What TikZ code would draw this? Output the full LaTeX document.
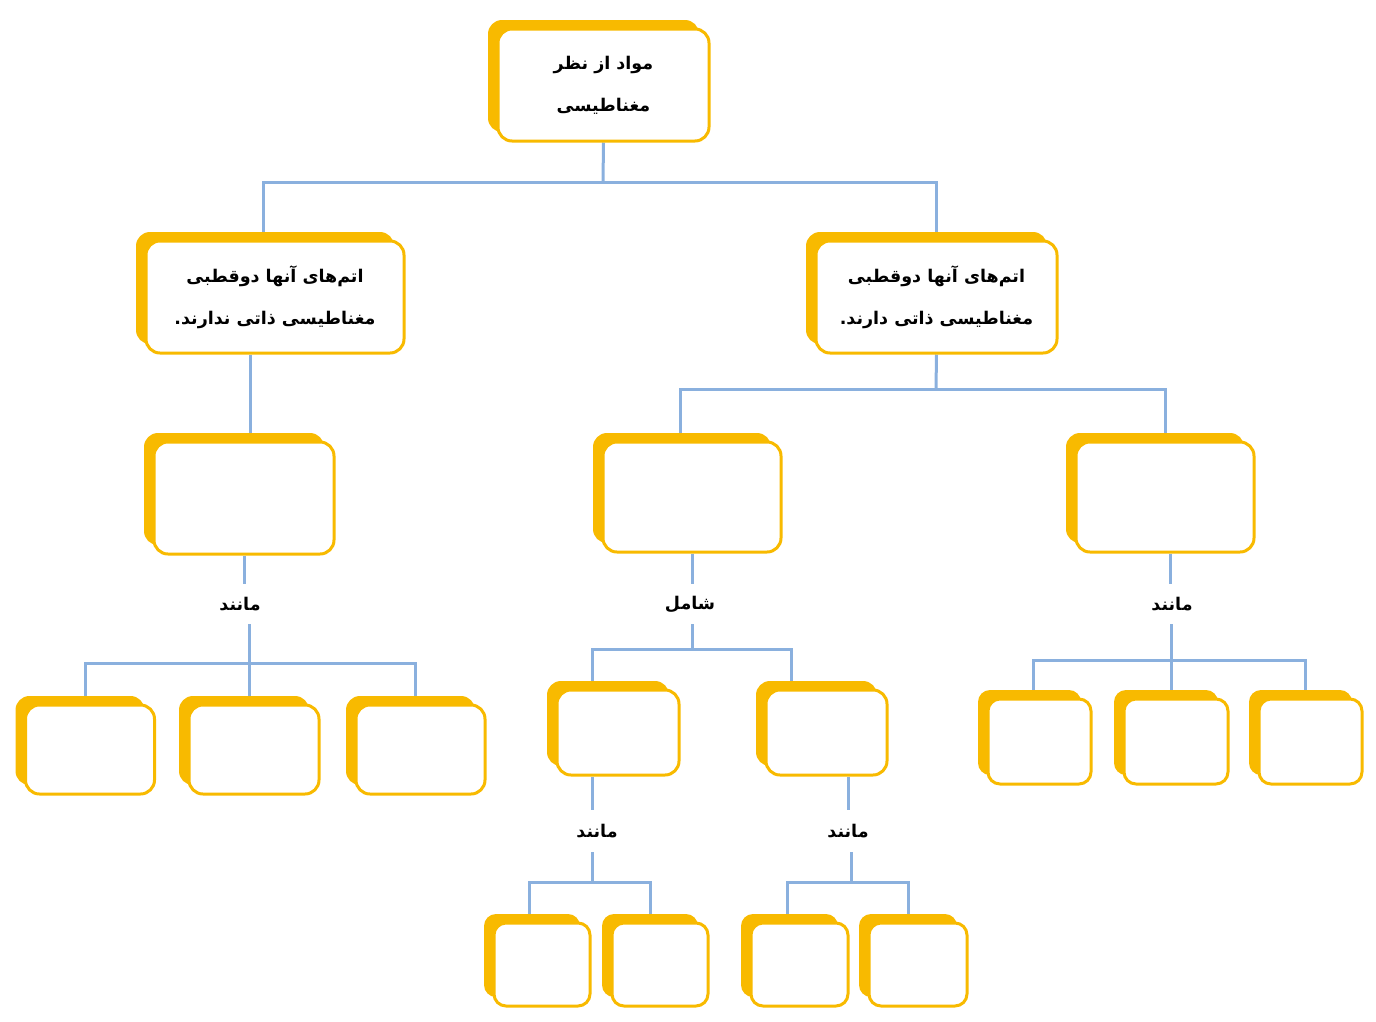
\documentclass[tikz,border=0pt]{standalone}
\usepackage{fontspec}
\newfontfamily\arabicfont[Script=Arabic]{DejaVu Sans}
\TeXXeTstate=1
\usetikzlibrary{shadows,backgrounds}
\definecolor{boxyellow}{RGB}{248,186,0}
\definecolor{linkblue}{RGB}{138,176,222}
\tikzset{
  cbox/.style={draw=boxyellow, line width=3pt, fill=white, rounded corners=14pt,
    general shadow={fill=boxyellow, shadow xshift=-10pt, shadow yshift=9pt}, inner sep=0pt},
  link/.style={draw=linkblue, line width=3pt},
  ftext/.style={font=\arabicfont\bfseries\fontsize{17.5}{42}\selectfont, align=center},
  lbl/.style={font=\arabicfont\bfseries\fontsize{17.5}{20}\selectfont, inner sep=0pt, minimum height=40pt}
}
\begin{document}
\begin{tikzpicture}[x=1pt,y=-1pt]
\useasboundingbox (0,0) rectangle (1376,1021);
% main boxes
\node[cbox, ftext, minimum width=211pt, minimum height=112pt] (top) at (603.5,85)
  {\beginR مواد از نظر\endR\\\beginR مغناطیسی\endR};
\node[cbox, ftext, minimum width=258pt, minimum height=112pt] (L1) at (275,297)
  {\beginR اتم‌های آنها دوقطبی\endR\\\beginR مغناطیسی ذاتی ندارند.\endR};
\node[cbox, ftext, minimum width=241pt, minimum height=112pt] (R1) at (936.5,297)
  {\beginR اتم‌های آنها دوقطبی\endR\\\beginR مغناطیسی ذاتی دارند.\endR};
% level 2
\node[cbox, minimum width=180pt, minimum height=112pt] (L2) at (244,498) {};
\node[cbox, minimum width=178pt, minimum height=110pt] (M2) at (692,497) {};
\node[cbox, minimum width=178pt, minimum height=110pt] (R2) at (1165,497) {};
% left bottom
\node[cbox, minimum width=129pt, minimum height=89pt] (LB1) at (90,749.5) {};
\node[cbox, minimum width=130pt, minimum height=89pt] (LB2) at (254,749.5) {};
\node[cbox, minimum width=129pt, minimum height=89pt] (LB3) at (420.5,749.5) {};
% middle level 3
\node[cbox, minimum width=122pt, minimum height=85pt] (M3a) at (618,732.5) {};
\node[cbox, minimum width=121pt, minimum height=85pt] (M3b) at (826.5,732.5) {};
% right bottom
\node[cbox, rounded corners=12pt, minimum width=103pt, minimum height=85pt] (RB1) at (1039.5,741.5) {};
\node[cbox, rounded corners=12pt, minimum width=104pt, minimum height=85pt] (RB2) at (1176,741.5) {};
\node[cbox, rounded corners=12pt, minimum width=103pt, minimum height=85pt] (RB3) at (1310.5,741.5) {};
% bottom row
\node[cbox, rounded corners=12pt, minimum width=96pt, minimum height=83pt] (B1) at (542,964.5) {};
\node[cbox, rounded corners=12pt, minimum width=96pt, minimum height=83pt] (B2) at (660,964.5) {};
\node[cbox, rounded corners=12pt, minimum width=97pt, minimum height=83pt] (B3) at (799.5,964.5) {};
\node[cbox, rounded corners=12pt, minimum width=98pt, minimum height=83pt] (B4) at (918,964.5) {};
% labels
\node[lbl] (lblL) at (240,604) {\beginR مانند\endR};
\node[lbl] (lblM) at (690,604) {\beginR شامل\endR};
\node[lbl] (lblR) at (1172,604) {\beginR مانند\endR};
\node[lbl, minimum height=42pt] (lblMa) at (597,831) {\beginR مانند\endR};
\node[lbl, minimum height=42pt] (lblMb) at (848,831) {\beginR مانند\endR};
% junctions
\coordinate (jTop) at (603,182);
\coordinate (jR1) at (936,389);
\coordinate (jL) at (249,663);
\coordinate (jM) at (692,649);
\coordinate (jR) at (1171,660);
\coordinate (jMa) at (592,882);
\coordinate (jMb) at (851,882);
\begin{scope}[on background layer]
  \draw[link] (top.south) -- (jTop);
  \draw[link] (jTop) -| ([xshift=-12pt]L1.north);
  \draw[link] (jTop) -| (R1.north);
  \draw[link] ([xshift=6pt]L2.north |- L1.south) -- ([xshift=6pt]L2.north);
  \draw[link] (R1.south) -- (jR1);
  \draw[link] (jR1) -| ([xshift=-12pt]M2.north);
  \draw[link] (jR1) -| (R2.north);
  % left branch
  \draw[link] (L2.south) -- (L2.south |- lblL.north);
  \draw[link] (jL |- lblL.south) -- (jL);
  \draw[link] (jL) -| ([xshift=-5pt]LB1.north);
  \draw[link] (jL) -- (jL |- LB2.north);
  \draw[link] (jL) -| ([xshift=-5.5pt]LB3.north);
  % middle branch
  \draw[link] (M2.south) -- (M2.south |- lblM.north);
  \draw[link] (jM |- lblM.south) -- (jM);
  \draw[link] (jM) -| ([xshift=-26pt]M3a.north);
  \draw[link] (jM) -| ([xshift=-35.5pt]M3b.north);
  % right branch
  \draw[link] ([xshift=5pt]R2.south) -- ([xshift=5pt]R2.south |- lblR.north);
  \draw[link] (jR |- lblR.south) -- (jR);
  \draw[link] (jR) -| ([xshift=-6.5pt]RB1.north);
  \draw[link] (jR) -- (jR |- RB2.north);
  \draw[link] (jR) -| ([xshift=-5.5pt]RB3.north);
  % level 3 branches
  \draw[link] ([xshift=-26pt]M3a.south) -- ([xshift=-26pt]M3a.south |- lblMa.north);
  \draw[link] (jMa |- lblMa.south) -- (jMa);
  \draw[link] (jMa) -| ([xshift=-13pt]B1.north);
  \draw[link] (jMa) -| ([xshift=-10pt]B2.north);
  \draw[link] ([xshift=21.5pt]M3b.south) -- ([xshift=21.5pt]M3b.south |- lblMb.north);
  \draw[link] (jMb |- lblMb.south) -- (jMb);
  \draw[link] (jMb) -| ([xshift=-12.5pt]B3.north);
  \draw[link] (jMb) -| ([xshift=-10pt]B4.north);
\end{scope}
\end{tikzpicture}
\end{document}
